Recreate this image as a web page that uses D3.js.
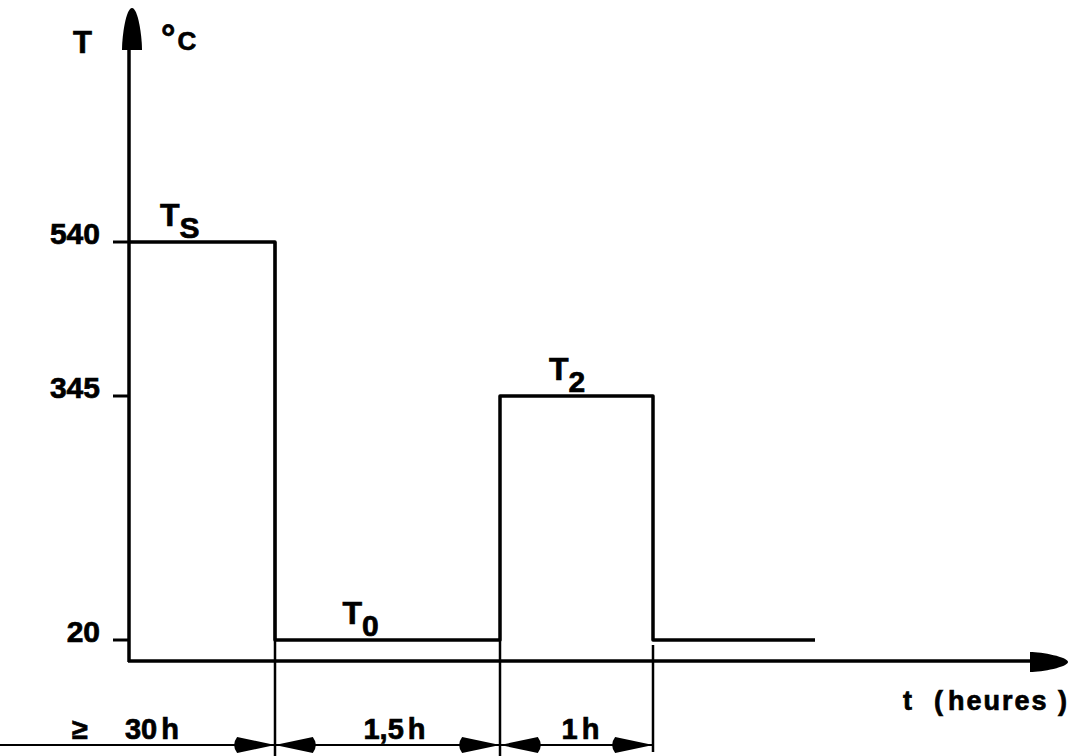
<!DOCTYPE html>
<html>
<head>
<meta charset="utf-8">
<script src="https://cdn.jsdelivr.net/npm/d3@7"></script>
<style>
  html, body { margin: 0; padding: 0; background: #fff; }
  svg { display: block; }
  text { font-family: "Liberation Sans", Arial, sans-serif; font-weight: bold; fill: #000; stroke: #000; stroke-width: 0.7px; }
  .narrow { font-family: "Liberation Sans Narrow", "Liberation Sans", sans-serif; }
</style>
</head>
<body>
<svg id="chart" width="1080" height="756"></svg>
<script>
// ---- data ----
const tempTicks = [540, 345, 20];
const tempTickLabels = ["540", "345", "20"];
const stepTimes = [0, 30, 31.5, 32.5, 34];      // phase boundaries (h), schematic
const stepTemps = [540, 20, 345, 20];           // temperature during each phase (°C)
const levelNames = ["T", "T", "T"];
const levelSubs = ["S", "0", "2"];
const levelPhase = [0, 1, 2];
const durationPrefix = ["\u2265", "", ""];
const durationLabels = ["30 h", "1,5 h", "1 h"];
const yAxisLabel = "T";
const yUnitLabel = "°C";
const xAxisLabel = ["t", "(", "heures", ")"];

// ---- scales (schematic, piecewise) ----
const x = d3.scaleLinear().domain(stepTimes).range([129, 275, 500, 653, 815]);
const y = d3.scaleLinear().domain([0, 20, 345, 540]).range([661, 640, 396, 242]);

const svg = d3.select("#chart");
const x0 = x(0), y0 = y(0);

// ---- axes ----
svg.append("line").attr("x1", x0).attr("x2", x0).attr("y1", y0 + 1).attr("y2", 48)
  .attr("stroke", "#000").attr("stroke-width", 3.5);
svg.append("path")
  .attr("d", `M${x0+3},8 C${x0+9},8 ${x0+13},36 ${x0+13},50 L${x0-7},50 C${x0-7},36 ${x0-3},8 ${x0+3},8 Z`)
  .attr("fill", "#000");

svg.append("line").attr("x1", x0 - 1).attr("x2", 1032).attr("y1", y0).attr("y2", y0)
  .attr("stroke", "#000").attr("stroke-width", 3.5);
svg.append("path")
  .attr("d", `M1068,${y0+1} C1068,${y0+6} 1042,${y0+11} 1030,${y0+11} L1030,${y0-9} C1042,${y0-9} 1068,${y0-4} 1068,${y0+1} Z`)
  .attr("fill", "#000");

// ticks
svg.selectAll(".tick").data(tempTicks).join("line")
  .attr("x1", x0 - 16).attr("x2", x0).attr("y1", d => y(d)).attr("y2", d => y(d))
  .attr("stroke", "#000").attr("stroke-width", 3);
svg.selectAll(".ticklabel").data(tempTicks).join("text")
  .attr("x", 100).attr("y", d => y(d) + 2).attr("text-anchor", "end")
  .attr("font-size", 30).text((d, i) => tempTickLabels[i]);

// axis labels
svg.append("text").attr("class", "narrow").attr("x", 73).attr("y", 53).attr("font-size", 31).text(yAxisLabel);
const unit = svg.append("text").attr("x", 161).attr("y", 50);
unit.append("tspan").attr("font-size", 36).text(yUnitLabel.charAt(0));
unit.append("tspan").attr("font-size", 26).attr("dx", 2).text(yUnitLabel.charAt(1));

const xl = svg.append("text").attr("y", 710).attr("font-size", 27);
xl.append("tspan").attr("x", 903).text(xAxisLabel[0]);
xl.append("tspan").attr("x", 934).text(xAxisLabel[1]);
xl.append("tspan").attr("x", 948).attr("letter-spacing", 2).text(xAxisLabel[2]);
xl.append("tspan").attr("x", 1058).text(xAxisLabel[3]);

// ---- temperature profile ----
let d = `M${x(stepTimes[0])},${y(stepTemps[0])}`;
stepTemps.forEach((t, i) => {
  if (i > 0) d += ` V${y(t)}`;
  d += ` H${x(stepTimes[i + 1])}`;
});
svg.append("path").attr("d", d).attr("fill", "none")
  .attr("stroke", "#000").attr("stroke-width", 3.5).attr("stroke-linejoin", "round");

// level labels (T with subscript)
levelPhase.forEach((p, i) => {
  const lx = x(stepTimes[p]) + (p === 0 ? 31 : (x(stepTimes[p + 1]) - x(stepTimes[p])) * (p === 1 ? 0.3 : 0.32));
  const ly = y(stepTemps[p]);
  const t = svg.append("text").attr("x", lx).attr("y", ly - 16);
  t.append("tspan").attr("class", "narrow").attr("font-size", 32).text(levelNames[i]);
  t.append("tspan").attr("font-size", 30).attr("dx", 0).attr("dy", 12).text(levelSubs[i]);
});

// ---- extension lines ----
const ext = [
  {t: stepTimes[1], y1: y(stepTemps[0]), y2: 756},
  {t: stepTimes[2], y1: y(20), y2: 756},
  {t: stepTimes[3], y1: y(20) + 5, y2: 752}
];
svg.selectAll(".ext").data(ext).join("line")
  .attr("x1", e => x(e.t)).attr("x2", e => x(e.t)).attr("y1", e => e.y1).attr("y2", e => e.y2)
  .attr("stroke", "#000").attr("stroke-width", 2.5);

// ---- dimension line ----
const dimY = 745;
svg.append("line").attr("x1", 0).attr("x2", x(stepTimes[3])).attr("y1", dimY).attr("y2", dimY)
  .attr("stroke", "#000").attr("stroke-width", 2.2);

function arrow(tx, dir) { // dir = +1 pointing right (tip at tx), -1 pointing left
  const L = 43 * dir;
  return `M${tx},${dimY} L${tx - L * 0.88},${dimY - 8} Q${tx - L * 1.02},${dimY} ${tx - L * 0.88},${dimY + 8} Z`;
}
const arrows = [
  [x(stepTimes[1]), 1], [x(stepTimes[1]), -1],
  [x(stepTimes[2]), 1], [x(stepTimes[2]), -1],
  [x(stepTimes[3]), 1]
];
svg.selectAll(".arr").data(arrows).join("path")
  .attr("d", a => arrow(a[0], a[1])).attr("fill", "#000");

// duration labels
const centers = [ x(stepTimes[1]) - 123,
                  (x(stepTimes[1]) + x(stepTimes[2])) / 2 + 7,
                  (x(stepTimes[2]) + x(stepTimes[3])) / 2 + 4 ];
svg.selectAll(".dur").data(durationLabels).join("text")
  .attr("x", (s, i) => centers[i]).attr("y", 739).attr("text-anchor", "middle")
  .attr("font-size", 29).attr("word-spacing", -4).text(s => s);
svg.selectAll(".durp").data(durationPrefix.filter(s => s)).join("text")
  .attr("x", 72).attr("y", 739).attr("font-size", 29).text(s => s);
</script>
</body>
</html>
